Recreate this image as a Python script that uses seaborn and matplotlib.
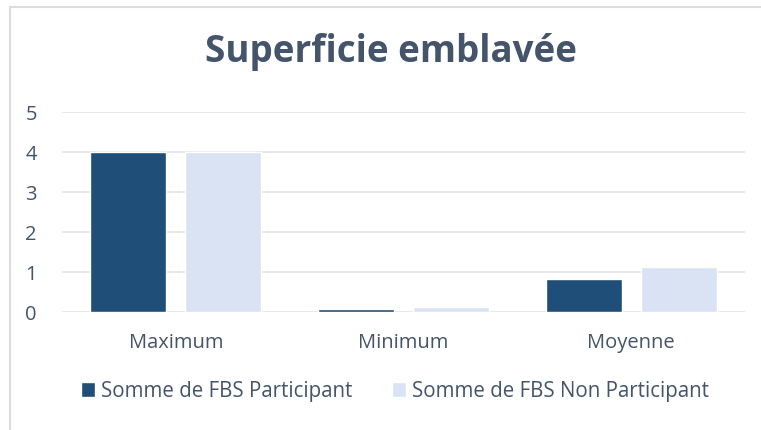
# Bar chart: Superficie emblavée

import pandas as pd
import seaborn as sns
import matplotlib.pyplot as plt
from matplotlib.patches import Rectangle

categories = ['Maximum', 'Minimum', 'Moyenne']
series_names = ['Somme de FBS Participant', 'Somme de FBS Non Participant']
participant = [4.0, 0.07, 0.83]
non_participant = [4.0, 0.12, 1.12]
yticks = [0, 1, 2, 3, 4, 5]

colors = ['#1F4E79', '#DAE3F3']
text_col = '#44546A'
grid_col = '#E1E4E8'

df = pd.DataFrame({
    'cat': categories * 2,
    'serie': [series_names[0]] * 3 + [series_names[1]] * 3,
    'val': participant + non_participant,
})

sns.set_theme(style='white')
plt.rcParams['font.family'] = ['Open Sans', 'DejaVu Sans']

fig = plt.figure(figsize=(7.61, 4.30), dpi=100)
ax = fig.add_axes([62 / 761, 1 - 312 / 430, (745 - 62) / 761, 200 / 430])

sns.barplot(data=df, x='cat', y='val', hue='serie', palette=colors,
            width=0.834, gap=0.2, saturation=1, ax=ax, legend=True)

ax.set_xlim(-0.5, 2.5)
ax.set_ylim(0, 5)
ax.set_yticks(yticks)
ax.yaxis.grid(True, color=grid_col, linewidth=1.2)
ax.set_axisbelow(True)
for s in ax.spines.values():
    s.set_visible(False)
ax.tick_params(axis='both', length=0, labelsize=14.5, colors=text_col)
ax.tick_params(axis='y', pad=18)
ax.tick_params(axis='x', pad=15)
ax.set_xlabel('')
ax.set_ylabel('')

fig.text(391 / 761, 1 - 52 / 430, 'Superficie emblavée', fontsize=26.5, fontweight='bold',
         color=text_col, ha='center', va='center')

leg = ax.legend(loc='upper center', bbox_to_anchor=(0.4876, -0.25), ncol=2, frameon=False,
                fontsize=14.8, labelcolor=text_col, handlelength=0.7, handleheight=0.7,
                handletextpad=0.3, columnspacing=1.9)

# chart border (top and left visible)
fig.patches.append(Rectangle((10 / 761, -0.1), 1.2, 1 - 7 / 430 + 0.1, transform=fig.transFigure,
                             fill=False, edgecolor='#D9DDE3', linewidth=1.5))

fig.savefig('out.png', dpi=100)
